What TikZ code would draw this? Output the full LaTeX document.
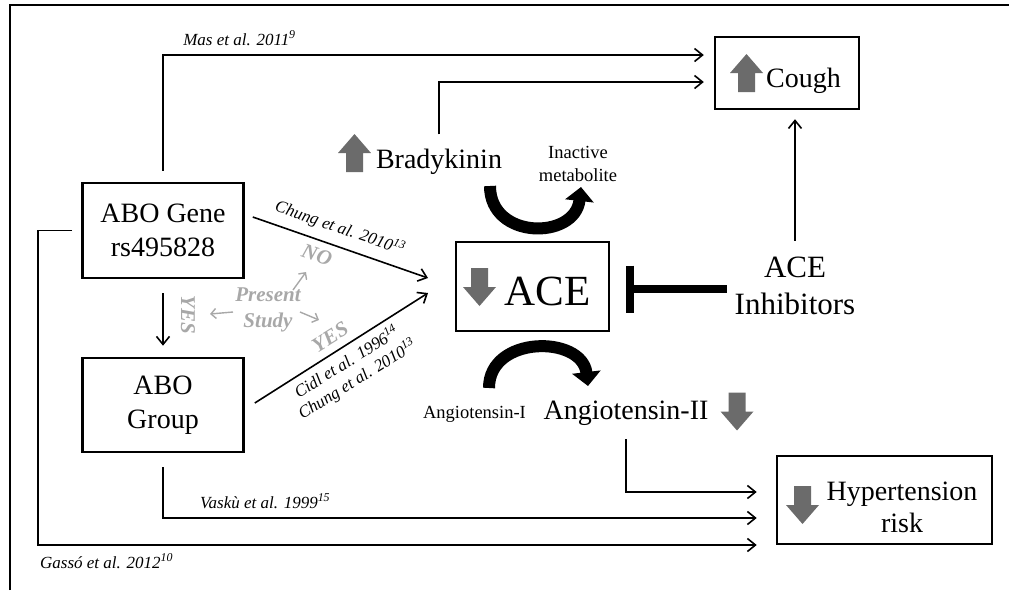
\documentclass[tikz,border=0pt]{standalone}
\usepackage{fontspec}
\setmainfont{Liberation Serif}
\usetikzlibrary{arrows.meta,calc}
\definecolor{agray}{HTML}{6B6B6B}
\definecolor{lgray}{HTML}{A8A8A8}
\begin{document}
\begin{tikzpicture}[x=1pt,y=-1pt,
  box/.style={draw,line width=2.6pt,inner sep=0pt},
  txt/.style={inner sep=0pt,font=\fontsize{28}{34}\selectfont},
  small/.style={inner sep=0pt,font=\fontsize{18.5}{23}\selectfont},
  cite/.style={inner sep=0pt,font=\fontsize{17}{20}\selectfont\itshape},
  gtxt/.style={inner sep=0pt,text=lgray,font=\fontsize{21}{26}\selectfont\bfseries\itshape,align=center},
  conn/.style={line width=1.6pt,-{Straight Barb[length=8pt,width=13pt]}},
  garr/.style={line width=1.4pt,draw=lgray,-{Straight Barb[length=5pt,width=10pt]}},
  bigcurve/.style={line width=12pt,-{Triangle[length=14pt,width=28pt]}},
  downarr/.pic={\fill[agray] (-8.5,-19) -- (8.5,-19) -- (8.5,0) -- (16.5,0) -- (0,19) -- (-16.5,0) -- (-8.5,0) -- cycle;},
]
\useasboundingbox (0,0) rectangle (1009,590);
% frame
\draw[line width=1.5pt] (10,590) -- (10,5) -- (1009,5);

% boxes
\node[box,minimum width=161pt,minimum height=95pt,align=center,font=\fontsize{28}{34}\selectfont] (gene) at (163,230.5) {ABO Gene\\rs495828};
\node[box,minimum width=161pt,minimum height=94pt,align=center,font=\fontsize{28}{34}\selectfont] (group) at (163,405) {ABO\\Group};
\node[draw,line width=2pt,inner sep=0pt,minimum width=153pt,minimum height=89pt] (ace) at (532.5,286.5) {};
\pic at (479.5,287) {downarr};
\node[inner sep=0pt,anchor=base,font=\fontsize{43}{50}\selectfont] (acet) at (547.5,305) {ACE};
\node[box,line width=2.4pt,minimum width=144pt,minimum height=72pt] (cough) at (787,73) {};
\pic[rotate=180] at (746.5,73) {downarr};
\node[txt,anchor=base] (cought) at (803.5,87) {Cough};
\node[box,minimum width=215pt,minimum height=88pt] (hyp) at (884.5,500) {};
\pic at (802.5,505) {downarr};
\node[txt,align=center,font=\fontsize{28}{32}\selectfont] (hypt) at (902,507) {Hypertension\\risk};

% free texts
\pic[rotate=180] at (354.5,153) {downarr};
\node[txt,anchor=base] (brady) at (439,168) {Bradykinin};
\node[small,align=center] (inact) at (578,164) {Inactive\\metabolite};
\node[small,anchor=base] (ang1) at (474.5,418) {Angiotensin-I};
\node[txt,anchor=base] (ang2) at (626,419) {Angiotensin-II};
\pic at (737,411.5) {downarr};
\node[txt,align=center,font=\fontsize{31}{37}\selectfont] (inh) at (795,286) {ACE\\Inhibitors};

% citations
\node[cite,anchor=base] (mas) at (239.5,45) {Mas et al. 2011\textsuperscript{9}};
\node[cite,rotate=-19] (chung) at (340,228) {Chung et al. 2010\textsuperscript{13}};
\node[cite,rotate=32,align=center] (cidl) at (352,371) {Cidl et al. 1996\textsuperscript{14}\\Chung et al. 2010\textsuperscript{13}};
\node[cite,anchor=base west] (vasku) at (200,508) {Vaskù et al. 1999\textsuperscript{15}};
\node[cite,anchor=base west] (gasso) at (40,568) {Gassó et al. 2012\textsuperscript{10}};

% present study
\node[gtxt,rotate=-19] (no) at (317,255) {NO};
\node[gtxt] (ps) at (268,310) {Present\\Study};
\node[gtxt,rotate=-90] (yes1) at (188,315) {YES};
\node[gtxt,rotate=32] (yes2) at (330,337) {YES};
\draw[garr] ([shift={(25,-20)}]ps.center) -- ([shift={(38,-38)}]ps.center);
\draw[garr] ([shift={(-35,2)}]ps.center) -- ([shift={(-58,4)}]ps.center);
\draw[garr] ([shift={(32,2)}]ps.center) -- ([shift={(51,10)}]ps.center);

% connectors
\draw[conn] ([yshift=11pt]gene.north) |- ([shift={(-10,-18)}]cough.west);
\draw[conn] ([yshift=14pt]brady.north) |- ([shift={(-10,9)}]cough.west);
\coordinate (ct) at (inh.north |- cough.south);
\draw[conn] ([yshift=16pt]inh.north) -- ([yshift=-9pt]ct);
\coordinate (tb) at ([shift={(20,2.5)}]ace.east);
\draw[line width=8pt] ($(inh.west |- tb)+(-8,0)$) -- (tb);
\draw[line width=8pt] ([yshift=23.5pt]tb) -- ([yshift=-23.5pt]tb);
\draw[conn] ([shift={(8,-13.5)}]gene.east) -- ([shift={(-27,-8.5)}]ace.west);
\draw[conn] ([shift={(10,-2)}]group.east) -- ([shift={(-27,6.5)}]ace.west);
\draw[conn] ([yshift=-14pt]gene.south) -- ([yshift=11pt]group.north);
\coordinate (gc) at (38,545);
\draw[conn] ([xshift=-9pt]gene.west) -| (gc) -- ([shift={(-19,45)}]hyp.west);
\draw[conn] ([yshift=-14pt]group.south) |- ([shift={(-19,18)}]hyp.west);
\draw[conn] ([yshift=-14pt]ang2.south) |- ([shift={(-19,-8)}]hyp.west);

% curved reaction arrows
\draw[bigcurve] (490,186) .. controls (490,240) and (575,240) .. (581,187);
\draw[bigcurve] (489,388) .. controls (489,335) and (582,335) .. (588,386);
\end{tikzpicture}
\end{document}
